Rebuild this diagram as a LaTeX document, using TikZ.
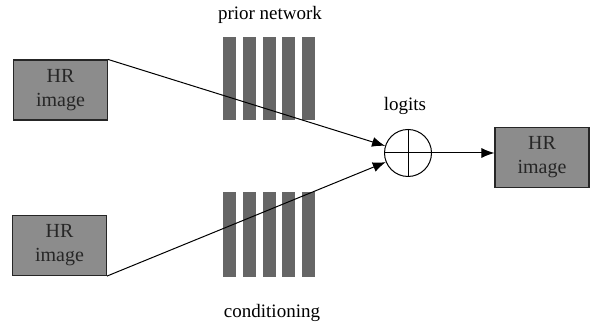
\documentclass[tikz,border=0pt]{standalone}
\usepackage{fontspec}
\setmainfont{Liberation Serif}
\usetikzlibrary{arrows.meta}
\begin{document}
\begin{tikzpicture}[x=1pt,y=1pt,
  imgbox/.style={draw=black!85,line width=1.1pt,fill=black!45,minimum width=94pt,minimum height=60pt,inner sep=0pt,align=center,font=\fontsize{20}{24}\selectfont,text=black!85},
  bar/.style={fill=black!60,draw=none},
  lbl/.style={font=\fontsize{19}{21}\selectfont},
  conn/.style={line width=1pt,-{Latex[length=13pt,width=10pt]}}]
\useasboundingbox (0,0) rectangle (592,328);
% boxes
\node[imgbox] (hr1) at (60.5,238) {HR\\image};
\node[imgbox] (hr2) at (59.5,82.5) {HR\\image};
\node[imgbox] (hr3) at (542,170.5) {HR\\image};
% bars
\foreach \i in {0,...,4}{
  \fill[bar] (223+\i*19.8,208) rectangle ++(13,83);
  \fill[bar] (223+\i*19.8,51) rectangle ++(13,85);
}
\node[lbl] (pn) at (270,313) {prior network};
\node[lbl] (cd) at (272,15) {conditioning};
% sum circle
\node[draw,circle,line width=1pt,minimum size=47pt,inner sep=0pt] (sum) at (408,175) {};
\draw[line width=1pt] (sum.north) -- (sum.south) (sum.west) -- (sum.east);
\node[lbl] (lg) at (405,222) {logits};
% connectors
\draw[conn] (hr1.north east) -- (sum);
\draw[conn] (hr2.south east) -- (sum);
\draw[conn] (sum.east) -- (sum.east -| hr3.west);
\end{tikzpicture}
\end{document}
